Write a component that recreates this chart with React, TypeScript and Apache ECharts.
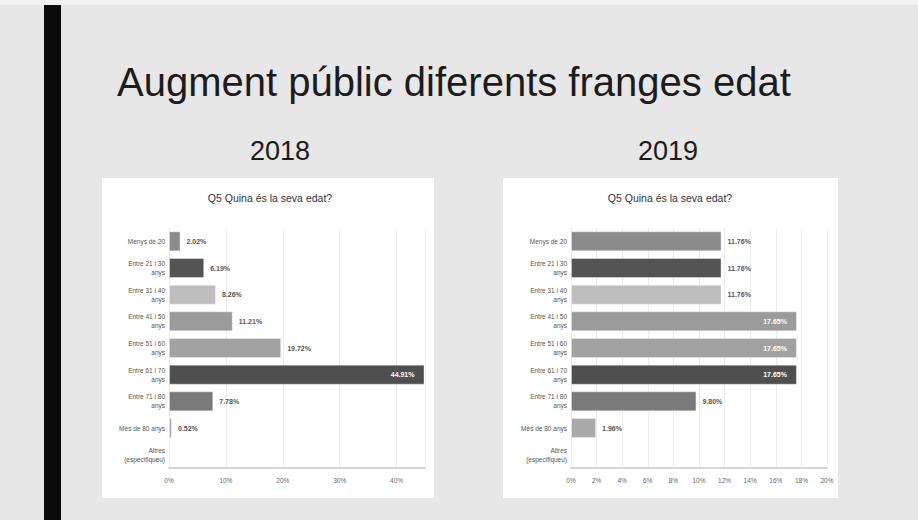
import React, { useEffect, useRef } from "react";
import * as echarts from "echarts";

const categories = [
  "Menys de 20",
  "Entre 21 i 30\nanys",
  "Entre 31 i 40\nanys",
  "Entre 41 i 50\nanys",
  "Entre 51 i 60\nanys",
  "Entre 61 i 70\nanys",
  "Entre 71 i 80\nanys",
  "Més de 80 anys",
  "Altres\n(especifiqueu)",
];

const values2018 = [2.02, 6.19, 8.26, 11.21, 19.72, 44.91, 7.78, 0.52, 0];
const values2019 = [11.76, 11.76, 11.76, 17.65, 17.65, 17.65, 9.8, 1.96, 0];

const barColors = [
  "#8b8b8b",
  "#545454",
  "#bebebe",
  "#9b9b9b",
  "#a2a2a2",
  "#4f4f4f",
  "#7a7a7a",
  "#a9a9a9",
  "#a9a9a9",
];

const inside2018 = [false, false, false, false, false, true, false, false, false];
const inside2019 = [false, false, false, true, true, true, false, false, false];

const mainTitle = "Augment públic diferents franges edat";
const yearLabels = ["2018", "2019"];
const chartTitle = "Q5 Quina és la seva edat?";

function makeData(values: number[], inside: boolean[]) {
  return values.map((v, i) => ({
    value: v,
    itemStyle: { color: barColors[i], borderColor: "rgba(255,255,255,0.35)", borderWidth: 1 },
    label: {
      show: v > 0,
      position: inside[i] ? "insideRight" : "right",
      distance: inside[i] ? 10 : 6,
      color: inside[i] ? "#ffffff" : "#555555",
      fontSize: 7,
      fontWeight: "bold",
      fontFamily: "Liberation Sans, Arial, sans-serif",
      formatter: (p: any) => p.value.toFixed(2) + "%",
    },
  }));
}

export default function App() {
  const ref = useRef<HTMLDivElement>(null);
  useEffect(() => {
    if (!ref.current) return;
    const chart = echarts.init(ref.current, undefined, { renderer: "svg" });
    const font = "Liberation Sans, Arial, sans-serif";
    const catAxis = (gi: number) => ({
      type: "category",
      gridIndex: gi,
      data: categories,
      inverse: true,
      axisLine: { show: false },
      axisTick: { show: false },
      axisLabel: {
        fontSize: 6.5,
        lineHeight: 9,
        color: "#555",
        fontFamily: font,
        margin: 4,
        align: "right",
      },
    });
    const valAxis = (gi: number, max: number, interval: number) => ({
      type: "value",
      gridIndex: gi,
      min: 0,
      max,
      interval,
      axisLine: { show: true, lineStyle: { color: "#d6d6d6", width: 2 } },
      axisTick: { show: false },
      splitLine: { show: true, lineStyle: { color: "#ececec", width: 1 } },
      axisLabel: {
        fontSize: 6.5,
        color: "#666",
        fontFamily: font,
        margin: 9,
        showMaxLabel: max % interval === 0,
        formatter: (v: number) => v + "%",
      },
    });
    chart.setOption({
      animation: false,
      backgroundColor: "#e7e7e7",
      graphic: {
        elements: [
          { type: "rect", z: -10, shape: { x: 0, y: 0, width: 918, height: 5 }, style: { fill: "#f1f1f1" } },
          { type: "rect", z: -10, shape: { x: 44, y: 5, width: 17, height: 515 }, style: { fill: "#0b0b0b" } },
          { type: "rect", z: -10, shape: { x: 102, y: 178, width: 332, height: 320 }, style: { fill: "#ffffff" } },
          { type: "rect", z: -10, shape: { x: 503, y: 178, width: 335, height: 320 }, style: { fill: "#ffffff" } },
          {
            type: "text",
            x: 117,
            y: 82,
            style: { text: mainTitle, fontSize: 40, fontFamily: font, fill: "#1c1c1c", textVerticalAlign: "middle" },
          },
          {
            type: "text",
            x: 280,
            y: 151,
            style: { text: yearLabels[0], fontSize: 27, fontFamily: font, fill: "#1c1c1c", textAlign: "center", textVerticalAlign: "middle" },
          },
          {
            type: "text",
            x: 668,
            y: 151,
            style: { text: yearLabels[1], fontSize: 27, fontFamily: font, fill: "#1c1c1c", textAlign: "center", textVerticalAlign: "middle" },
          },
          {
            type: "text",
            x: 270,
            y: 198,
            style: { text: chartTitle, fontSize: 10.5, fontFamily: font, fill: "#333", textAlign: "center", textVerticalAlign: "middle" },
          },
          {
            type: "text",
            x: 670,
            y: 198,
            style: { text: chartTitle, fontSize: 10.5, fontFamily: font, fill: "#333", textAlign: "center", textVerticalAlign: "middle" },
          },
        ],
      },
      grid: [
        { left: 169, top: 228, width: 256, height: 240 },
        { left: 571, top: 228, width: 256, height: 240 },
      ],
      xAxis: [valAxis(0, 45, 10), valAxis(1, 20, 2)],
      yAxis: [catAxis(0), catAxis(1)],
      series: [
        {
          type: "bar",
          xAxisIndex: 0,
          yAxisIndex: 0,
          barWidth: 20,
          data: makeData(values2018, inside2018),
        },
        {
          type: "bar",
          xAxisIndex: 1,
          yAxisIndex: 1,
          barWidth: 20,
          data: makeData(values2019, inside2019),
        },
      ],
    });
    return () => chart.dispose();
  }, []);
  return <div ref={ref} style={{ position: "fixed", left: 0, top: 0, width: 918, height: 520 }} />;
}
